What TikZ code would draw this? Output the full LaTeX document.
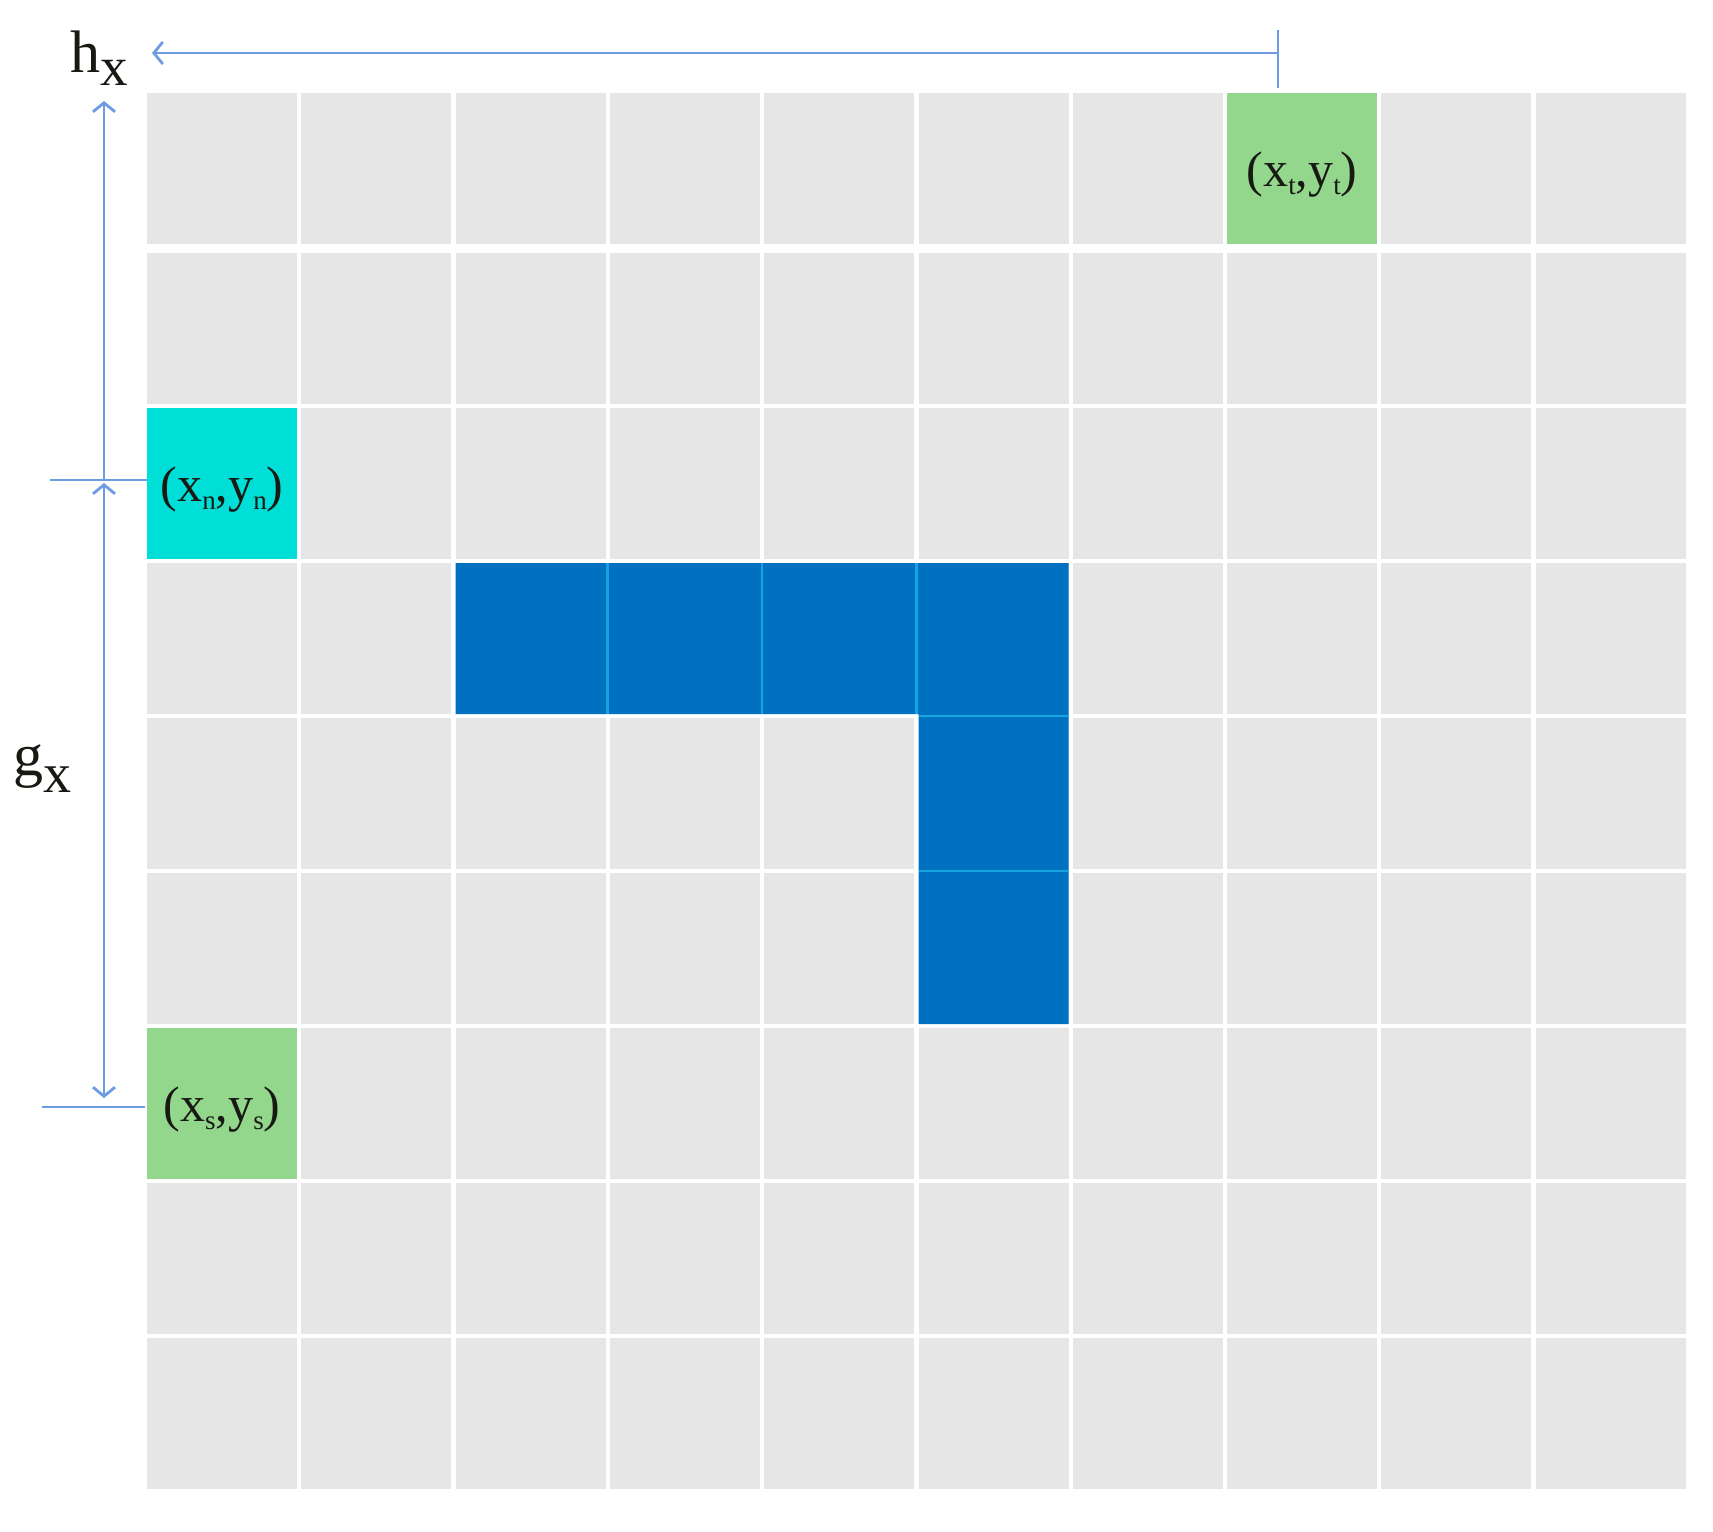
\documentclass[tikz,border=0pt]{standalone}
\usepackage{fontspec}
\setmainfont{Liberation Serif}
\usetikzlibrary{arrows.meta}
\definecolor{cellgray}{RGB}{230,230,230}
\definecolor{cellgreen}{RGB}{147,215,140}
\definecolor{cellcyan}{RGB}{0,222,216}
\definecolor{blockblue}{RGB}{0,112,192}
\definecolor{seplight}{RGB}{20,165,225}
\definecolor{dimblue}{RGB}{110,156,226}
\definecolor{txt}{RGB}{25,25,20}
\newcommand{\subtxt}[1]{\raisebox{-8pt}{\fontsize{27}{27}\selectfont #1}}
\newcommand{\celllabel}[2]{\fontsize{50}{50}\selectfont (x\subtxt{#1},y\subtxt{#2})}
\begin{document}
\begin{tikzpicture}[x=1pt,y=-1pt,
  cellbox/.style={fill=cellgray, inner sep=0pt, outer sep=0pt, minimum width=150pt, minimum height=151pt, anchor=north west},
  celltext/.style={text=txt, inner sep=0pt, anchor=base},
  dimline/.style={draw=dimblue, line width=2.8pt},
  barb/.tip={Straight Barb[length=9pt,width=22pt]},
  dimarrow/.style={dimline, -barb},
  dimboth/.style={dimline, barb-barb},
  sepline/.style={draw=seplight, line width=2.5pt},
  axlabel/.style={text=txt, inner sep=0pt, anchor=base west}]
\fill[white] (0,0) rectangle (1713,1531);
\useasboundingbox (0,0) rectangle (1713,1531);
% grid
\foreach \r in {0,...,8}{
  \foreach \c in {0,...,9}{
    \pgfmathsetmacro{\xx}{147+154.3*\c}
    \pgfmathsetmacro{\yy}{ifthenelse(\r==0,93,253+155*(\r-1))}
    \node[cellbox] (c-\r-\c) at (\xx,\yy) {};
  }
}
% special cells
\node[cellbox, fill=cellgreen] (target) at (c-0-7.north west) {};
\node[cellbox, fill=cellcyan] (near) at (c-2-0.north west) {};
\node[cellbox, fill=cellgreen] (start) at (c-6-0.north west) {};
\node[celltext] (ltarget) at ([yshift=-18pt]target.center) {\celllabel{t}{t}};
\node[celltext] (lnear) at ([yshift=-18pt]near.center) {\celllabel{n}{n}};
\node[celltext] (lstart) at ([yshift=-18pt]start.center) {\celllabel{s}{s}};
% obstacle block
\fill[blockblue] (c-3-2.north west) -- (c-3-5.north east) -- (c-5-5.south east)
  -- (c-5-5.south west) -- (c-3-5.south west) -- (c-3-2.south west) -- cycle;
\draw[sepline] ([xshift=-2.2pt]c-3-3.north west) -- ([xshift=-2.2pt]c-3-3.south west);
\draw[sepline] ([xshift=-2.2pt]c-3-4.north west) -- ([xshift=-2.2pt]c-3-4.south west);
\draw[sepline] ([xshift=-2.2pt]c-3-5.north west) -- ([xshift=-2.2pt]c-3-5.south west);
\draw[sepline] ([yshift=2pt]c-4-5.north west) -- ([yshift=2pt]c-4-5.north east);
\draw[sepline] ([yshift=2pt]c-5-5.north west) -- ([yshift=2pt]c-5-5.north east);
% dimension lines
\coordinate (hxR) at (1278,53);
\coordinate (hxL) at (152,53);
\coordinate (tickT) at (1278,30);
\coordinate (tickB) at (1278,88);
\draw[dimarrow] (hxR) -- (hxL);
\draw[dimline] (tickT) -- (tickB);
\coordinate (vTop) at (104,101);
\coordinate (vMid) at (104,480);
\coordinate (vMid2) at (104,483);
\coordinate (vBot) at (104,1098);
\draw[dimarrow] (vMid) -- (vTop);
\draw[dimboth] (vMid2) -- (vBot);
\coordinate (nL) at (50,480);
\coordinate (nR) at (147,480);
\coordinate (sL) at (42,1107);
\coordinate (sR) at (145,1107);
\draw[dimline] (nL) -- (nR);
\draw[dimline] (sL) -- (sR);
% axis labels
\node[axlabel] (hx) at (70,72) {\fontsize{60}{60}\selectfont h\raisebox{-13pt}{\fontsize{55}{55}\selectfont x}};
\node[axlabel] (gx) at (13,775) {\fontsize{60}{60}\selectfont g\raisebox{-17pt}{\fontsize{56}{56}\selectfont x}};
\end{tikzpicture}
\end{document}
